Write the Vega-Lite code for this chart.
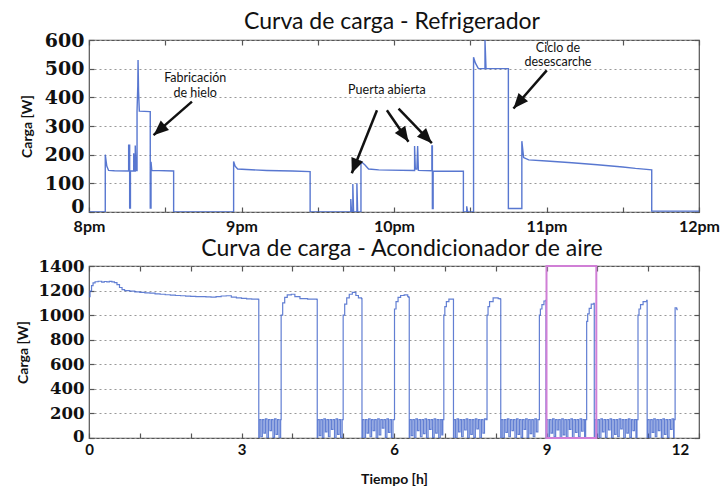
{
  "$schema": "https://vega.github.io/schema/vega-lite/v6.json",
  "background": "white",
  "padding": {"left": 15, "top": 10, "right": 0, "bottom": 0},
  "spacing": 2,
  "config": {
    "view": {"stroke": "#555", "strokeWidth": 1.2},
    "axis": {"domain": false, "tickColor": "#555", "tickSize": -5, "tickWidth": 1.2, "labelFont": "Lato", "labelFontWeight": "bold", "labelColor": "#111", "titleFont": "Lato", "titleFontWeight": "bold", "titleFontSize": 14, "titleColor": "#111", "grid": false},
    "title": {"font": "Lato", "fontSize": 23, "fontWeight": "normal", "color": "#111", "offset": -3}
  },
  "datasets": {
    "fridge": [
      {"m":0,"w":0},{"m":6.4,"w":0},{"m":6.4,"w":200},{"m":7.0,"w":160},{"m":7.7,"w":145},{"m":10,"w":144},{"m":15.6,"w":143},
      {"m":15.6,"w":233},{"m":16.0,"w":233},{"m":16.0,"w":14},{"m":16.3,"w":14},{"m":16.3,"w":143},{"m":17.6,"w":143},{"m":17.6,"w":205},{"m":17.9,"w":143},
      {"m":18.2,"w":143},{"m":18.2,"w":232},{"m":18.5,"w":145},{"m":18.9,"w":145},{"m":18.9,"w":352},{"m":19.2,"w":440},{"m":19.3,"w":530},{"m":19.5,"w":420},{"m":19.8,"w":352},
      {"m":24.0,"w":350},{"m":24.1,"w":350},{"m":24.1,"w":14},{"m":24.4,"w":14},{"m":24.4,"w":175},{"m":24.7,"w":145},{"m":33.3,"w":143},{"m":33.3,"w":0},
      {"m":56.9,"w":0},{"m":56.9,"w":176},{"m":57.5,"w":160},{"m":58.5,"w":150},{"m":62,"w":148},{"m":70,"w":145},{"m":80,"w":143},{"m":87,"w":141},{"m":87,"w":0},
      {"m":103,"w":0},{"m":103,"w":45},{"m":103.3,"w":0},{"m":103.8,"w":0},{"m":103.8,"w":98},{"m":104.1,"w":0},{"m":105.4,"w":0},{"m":105.4,"w":100},{"m":105.7,"w":0},
      {"m":107,"w":0},{"m":107,"w":176},{"m":108.5,"w":165},{"m":110,"w":150},{"m":114,"w":147},{"m":118,"w":146},{"m":128.1,"w":145},
      {"m":128.1,"w":230},{"m":128.4,"w":150},{"m":129.0,"w":150},{"m":129.3,"w":230},{"m":129.6,"w":145},
      {"m":134.9,"w":144},{"m":134.9,"w":230},{"m":135.1,"w":230},{"m":135.1,"w":12},{"m":135.4,"w":12},{"m":135.4,"w":143},{"m":147.3,"w":142},{"m":147.3,"w":0},
      {"m":148.6,"w":0},{"m":148.6,"w":20},{"m":149.0,"w":0},{"m":151.3,"w":0},{"m":151.3,"w":540},{"m":152.0,"w":520},{"m":153.2,"w":500},{"m":155.8,"w":500},
      {"m":155.8,"w":600},{"m":156.2,"w":500},{"m":165,"w":500},{"m":165,"w":12},{"m":170.3,"w":12},{"m":170.3,"w":247},{"m":171,"w":190},{"m":173,"w":182},
      {"m":180,"w":178},{"m":190,"w":172},{"m":200,"w":165},{"m":210,"w":157},{"m":215,"w":152},{"m":221.4,"w":147},{"m":221.4,"w":3},{"m":240,"w":3}
    ],
    "arrows": [
      {"id":"a1","m1":40.5,"w1":385,"m2":25.4,"w2":268},
      {"id":"a2","m1":113.3,"w1":355,"m2":103.4,"w2":135},
      {"id":"a3","m1":117.2,"w1":355,"m2":125.7,"w2":245},
      {"id":"a4","m1":121.8,"w1":361,"m2":134.9,"w2":240},
      {"id":"a5","m1":180.1,"w1":494,"m2":167,"w2":361}
    ],
    "notes": [
      {"m":41.8,"w":469,"label":"Fabricación"},
      {"m":41.8,"w":416,"label":"de hielo"},
      {"m":117.2,"w":424,"label":"Puerta abierta"},
      {"m":184.5,"w":572,"label":"Ciclo de"},
      {"m":184.5,"w":523,"label":"desescarche"}
    ],
    "ac": [
      {"h":0,"w":1150},{"h":0.02,"w":1195},{"h":0.05,"w":1240},{"h":0.08,"w":1262},{"h":0.12,"w":1272},{"h":0.18,"w":1276},{"h":0.25,"w":1268},{"h":0.3,"w":1274},{"h":0.35,"w":1271},{"h":0.4,"w":1275},{"h":0.45,"w":1270},{"h":0.5,"w":1265},
      {"h":0.55,"w":1248},{"h":0.6,"w":1225},{"h":0.65,"w":1208},{"h":0.7,"w":1200},{"h":0.8,"w":1196},{"h":0.9,"w":1190},{"h":1.0,"w":1186},{"h":1.1,"w":1182},{"h":1.2,"w":1180},{"h":1.3,"w":1173},
      {"h":1.4,"w":1170},{"h":1.5,"w":1166},{"h":1.6,"w":1163},{"h":1.7,"w":1160},{"h":1.8,"w":1158},{"h":1.9,"w":1155},{"h":2.0,"w":1153},{"h":2.1,"w":1151},{"h":2.2,"w":1150},{"h":2.3,"w":1148},
      {"h":2.4,"w":1147},{"h":2.5,"w":1150},{"h":2.6,"w":1156},{"h":2.7,"w":1158},{"h":2.8,"w":1147},{"h":2.9,"w":1140},{"h":3.0,"w":1136},{"h":3.1,"w":1133},{"h":3.2,"w":1130},{"h":3.33,"w":1128},{"h":3.34,"w":0},
      {"h":3.35,"w":150},{"h":3.38,"w":10},{"h":3.41,"w":150},{"h":3.44,"w":40},{"h":3.47,"w":155},{"h":3.50,"w":0},{"h":3.53,"w":150},{"h":3.56,"w":60},{"h":3.59,"w":150},{"h":3.62,"w":5},{"h":3.65,"w":155},{"h":3.68,"w":30},{"h":3.71,"w":150},{"h":3.74,"w":0},{"h":3.77,"w":150},
      {"h":3.78,"w":1000},{"h":3.81,"w":1100},{"h":3.85,"w":1145},{"h":3.9,"w":1165},{"h":3.98,"w":1170},{"h":4.05,"w":1150},{"h":4.15,"w":1135},{"h":4.3,"w":1130},{"h":4.48,"w":1128},{"h":4.49,"w":0},
      {"h":4.50,"w":150},{"h":4.53,"w":20},{"h":4.56,"w":150},{"h":4.59,"w":0},{"h":4.62,"w":155},{"h":4.65,"w":50},{"h":4.68,"w":150},{"h":4.71,"w":10},{"h":4.74,"w":150},{"h":4.77,"w":70},{"h":4.80,"w":150},{"h":4.83,"w":0},{"h":4.86,"w":155},{"h":4.89,"w":30},{"h":4.92,"w":150},{"h":4.95,"w":5},{"h":4.98,"w":150},
      {"h":5.0,"w":1000},{"h":5.03,"w":1090},{"h":5.07,"w":1140},{"h":5.12,"w":1170},{"h":5.18,"w":1185},{"h":5.25,"w":1160},{"h":5.3,"w":1140},{"h":5.36,"w":1135},{"h":5.37,"w":0},
      {"h":5.38,"w":150},{"h":5.41,"w":0},{"h":5.44,"w":150},{"h":5.47,"w":40},{"h":5.50,"w":155},{"h":5.53,"w":10},{"h":5.56,"w":150},{"h":5.59,"w":60},{"h":5.62,"w":150},{"h":5.65,"w":0},{"h":5.68,"w":155},{"h":5.71,"w":25},{"h":5.74,"w":150},{"h":5.77,"w":80},{"h":5.80,"w":150},{"h":5.83,"w":5},{"h":5.86,"w":155},{"h":5.89,"w":45},{"h":5.92,"w":150},{"h":5.95,"w":0},{"h":5.98,"w":150},
      {"h":6.01,"w":1050},{"h":6.04,"w":1110},{"h":6.08,"w":1145},{"h":6.13,"w":1160},{"h":6.2,"w":1165},{"h":6.27,"w":1150},{"h":6.29,"w":1145},{"h":6.30,"w":0},
      {"h":6.31,"w":150},{"h":6.34,"w":20},{"h":6.37,"w":150},{"h":6.40,"w":0},{"h":6.43,"w":155},{"h":6.46,"w":60},{"h":6.49,"w":150},{"h":6.52,"w":10},{"h":6.55,"w":150},{"h":6.58,"w":35},{"h":6.61,"w":155},{"h":6.64,"w":0},{"h":6.67,"w":150},{"h":6.70,"w":70},{"h":6.73,"w":150},{"h":6.76,"w":5},{"h":6.79,"w":155},{"h":6.82,"w":40},{"h":6.85,"w":150},{"h":6.88,"w":0},{"h":6.91,"w":150},{"h":6.94,"w":25},{"h":6.96,"w":150},
      {"h":6.98,"w":1000},{"h":7.0,"w":1070},{"h":7.03,"w":1110},{"h":7.08,"w":1130},{"h":7.16,"w":1130},{"h":7.17,"w":0},
      {"h":7.18,"w":150},{"h":7.21,"w":0},{"h":7.24,"w":155},{"h":7.27,"w":50},{"h":7.30,"w":150},{"h":7.33,"w":10},{"h":7.36,"w":150},{"h":7.39,"w":65},{"h":7.42,"w":155},{"h":7.45,"w":0},{"h":7.48,"w":150},{"h":7.51,"w":30},{"h":7.54,"w":150},{"h":7.57,"w":5},{"h":7.60,"w":155},{"h":7.63,"w":75},{"h":7.66,"w":150},{"h":7.69,"w":0},{"h":7.72,"w":150},{"h":7.75,"w":40},{"h":7.78,"w":155},{"h":7.81,"w":150},
      {"h":7.83,"w":1000},{"h":7.85,"w":1070},{"h":7.88,"w":1110},{"h":7.95,"w":1140},{"h":8.05,"w":1135},{"h":8.09,"w":1130},{"h":8.10,"w":0},
      {"h":8.11,"w":150},{"h":8.14,"w":0},{"h":8.17,"w":150},{"h":8.20,"w":45},{"h":8.23,"w":155},{"h":8.26,"w":10},{"h":8.29,"w":150},{"h":8.32,"w":60},{"h":8.35,"w":150},{"h":8.38,"w":0},{"h":8.41,"w":155},{"h":8.44,"w":30},{"h":8.47,"w":150},{"h":8.50,"w":5},{"h":8.53,"w":150},{"h":8.56,"w":70},{"h":8.59,"w":155},{"h":8.62,"w":0},{"h":8.65,"w":150},{"h":8.68,"w":35},{"h":8.71,"w":150},{"h":8.74,"w":10},{"h":8.77,"w":155},{"h":8.80,"w":50},{"h":8.83,"w":150},
      {"h":8.86,"w":1000},{"h":8.88,"w":1050},{"h":8.91,"w":1085},{"h":8.95,"w":1115},{"h":8.98,"w":1120},{"h":8.99,"w":0},
      {"h":9.00,"w":150},{"h":9.03,"w":0},{"h":9.06,"w":150},{"h":9.09,"w":40},{"h":9.12,"w":155},{"h":9.15,"w":10},{"h":9.18,"w":150},{"h":9.21,"w":65},{"h":9.24,"w":150},{"h":9.27,"w":0},{"h":9.30,"w":155},{"h":9.33,"w":25},{"h":9.36,"w":150},{"h":9.39,"w":5},{"h":9.42,"w":150},{"h":9.45,"w":70},{"h":9.48,"w":155},{"h":9.51,"w":0},{"h":9.54,"w":150},{"h":9.57,"w":45},{"h":9.60,"w":150},{"h":9.63,"w":10},{"h":9.66,"w":155},{"h":9.69,"w":55},{"h":9.72,"w":150},{"h":9.75,"w":0},{"h":9.77,"w":150},
      {"h":9.79,"w":950},{"h":9.81,"w":1010},{"h":9.84,"w":1055},{"h":9.88,"w":1090},{"h":9.93,"w":1095},{"h":9.94,"w":0},
      {"h":9.95,"w":150},{"h":9.98,"w":10},{"h":10.01,"w":150},{"h":10.04,"w":0},{"h":10.07,"w":155},{"h":10.10,"w":50},{"h":10.13,"w":150},{"h":10.16,"w":5},{"h":10.19,"w":150},{"h":10.22,"w":65},{"h":10.25,"w":155},{"h":10.28,"w":0},{"h":10.31,"w":150},{"h":10.34,"w":30},{"h":10.37,"w":150},{"h":10.40,"w":10},{"h":10.43,"w":155},{"h":10.46,"w":75},{"h":10.49,"w":150},{"h":10.52,"w":0},{"h":10.55,"w":150},{"h":10.58,"w":40},{"h":10.61,"w":155},{"h":10.64,"w":5},{"h":10.67,"w":150},{"h":10.70,"w":60},{"h":10.73,"w":150},{"h":10.76,"w":0},{"h":10.78,"w":150},
      {"h":10.80,"w":1000},{"h":10.82,"w":1050},{"h":10.85,"w":1085},{"h":10.9,"w":1110},{"h":10.97,"w":1120},{"h":10.98,"w":0},
      {"h":10.99,"w":150},{"h":11.02,"w":0},{"h":11.05,"w":150},{"h":11.08,"w":45},{"h":11.11,"w":155},{"h":11.14,"w":10},{"h":11.17,"w":150},{"h":11.20,"w":60},{"h":11.23,"w":150},{"h":11.26,"w":0},{"h":11.29,"w":155},{"h":11.32,"w":30},{"h":11.35,"w":150},{"h":11.38,"w":5},{"h":11.41,"w":150},{"h":11.44,"w":70},{"h":11.47,"w":155},{"h":11.50,"w":0},{"h":11.51,"w":150},
      {"h":11.53,"w":1060},{"h":11.56,"w":1050},{"h":11.57,"w":1040}
    ],
    "box": [{"h1":9,"h2":9.98,"y1":0,"y2":1400}]
  },
  "vconcat": [
    {
      "width": 610,
      "height": 172,
      "title": {"text": "Curva de carga - Refrigerador", "dx": -2},
      "resolve": {"axis": {"x": "independent", "y": "independent"}},
      "layer": [
        {
          "data": {"name": "fridge"},
          "mark": {"type": "line", "color": "#3b5fc8", "strokeWidth": 1.4, "opacity": 0.85, "clip": true},
          "encoding": {
            "x": {"field": "m", "type": "quantitative", "scale": {"domain": [0, 240], "nice": false},
              "axis": {"values": [0,30,60,90,120,150,180,210,240], "labelFlush": false, "labelExpr": "datum.value % 60 == 0 ? (datum.value == 240 ? '12pm' : (8 + datum.value/60) + 'pm') : ''", "labelFontSize": 16, "labelPadding": 11, "title": null}},
            "y": {"field": "w", "type": "quantitative", "scale": {"domain": [0, 600], "nice": false},
              "axis": {"values": [0,100,200,300,400,500,600], "format": "d", "grid": true, "gridDash": [2,3], "gridColor": "#999", "gridWidth": 1.2, "labelFont": "DejaVu Serif", "labelFontSize": 19, "labelPadding": 10, "labelOffset": {"condition": {"test": "datum.value == 0", "value": -6}, "value": 0}, "title": "Carga [W]", "titlePadding": 10}},
            "order": {"value": null}
          }
        },
        {
          "data": {"name": "arrows"},
          "mark": {"type": "rule", "color": "#111", "strokeWidth": 2.5},
          "encoding": {
            "x": {"field": "m1", "type": "quantitative", "axis": {"orient": "top", "labels": false, "values": [0,30,60,90,120,150,180,210,240], "title": null}},
            "y": {"field": "w1", "type": "quantitative", "axis": {"orient": "right", "labels": false, "values": [0,100,200,300,400,500,600], "title": null}},
            "x2": {"field": "m2"},
            "y2": {"field": "w2"}
          }
        },
        {
          "data": {"name": "arrows"},
          "transform": [{"filter": "datum.id == 'a1'"}],
          "mark": {"type": "point", "shape": "M0,0L0.42,1L-0.42,1Z", "filled": true, "color": "#111", "opacity": 1, "size": 900, "angle": 229},
          "encoding": {"x": {"field": "m2", "type": "quantitative", "axis": null}, "y": {"field": "w2", "type": "quantitative", "axis": null}}
        },
        {
          "data": {"name": "arrows"},
          "transform": [{"filter": "datum.id == 'a2'"}],
          "mark": {"type": "point", "shape": "M0,0L0.42,1L-0.42,1Z", "filled": true, "color": "#111", "opacity": 1, "size": 900, "angle": 201.5},
          "encoding": {"x": {"field": "m2", "type": "quantitative", "axis": null}, "y": {"field": "w2", "type": "quantitative", "axis": null}}
        },
        {
          "data": {"name": "arrows"},
          "transform": [{"filter": "datum.id == 'a3'"}],
          "mark": {"type": "point", "shape": "M0,0L0.42,1L-0.42,1Z", "filled": true, "color": "#111", "opacity": 1, "size": 900, "angle": 145.6},
          "encoding": {"x": {"field": "m2", "type": "quantitative", "axis": null}, "y": {"field": "w2", "type": "quantitative", "axis": null}}
        },
        {
          "data": {"name": "arrows"},
          "transform": [{"filter": "datum.id == 'a4'"}],
          "mark": {"type": "point", "shape": "M0,0L0.42,1L-0.42,1Z", "filled": true, "color": "#111", "opacity": 1, "size": 900, "angle": 136.4},
          "encoding": {"x": {"field": "m2", "type": "quantitative", "axis": null}, "y": {"field": "w2", "type": "quantitative", "axis": null}}
        },
        {
          "data": {"name": "arrows"},
          "transform": [{"filter": "datum.id == 'a5'"}],
          "mark": {"type": "point", "shape": "M0,0L0.42,1L-0.42,1Z", "filled": true, "color": "#111", "opacity": 1, "size": 900, "angle": 221},
          "encoding": {"x": {"field": "m2", "type": "quantitative", "axis": null}, "y": {"field": "w2", "type": "quantitative", "axis": null}}
        },
        {
          "data": {"name": "notes"},
          "mark": {"type": "text", "font": "Lato", "fontSize": 12.5, "color": "#111", "align": "center", "baseline": "middle"},
          "encoding": {
            "x": {"field": "m", "type": "quantitative", "axis": null},
            "y": {"field": "w", "type": "quantitative", "axis": null},
            "text": {"field": "label"}
          }
        }
      ]
    },
    {
      "width": 610,
      "height": 172,
      "title": {"text": "Curva de carga - Acondicionador de aire", "dx": 8},
      "resolve": {"axis": {"x": "independent", "y": "independent"}},
      "layer": [
        {
          "data": {"name": "ac"},
          "mark": {"type": "line", "color": "#3b5fc8", "strokeWidth": 1.2, "opacity": 0.8, "interpolate": "step-after", "clip": true},
          "encoding": {
            "x": {"field": "h", "type": "quantitative", "scale": {"domain": [0, 12], "nice": false},
              "axis": {"values": [0,1,2,3,4,5,6,7,8,9,10,11,12], "labelFlush": false, "labelExpr": "datum.value % 3 == 0 ? datum.label : ''", "labelFontSize": 15, "labelPadding": 9, "labelOffset": {"condition": {"test": "datum.value == 12", "value": -19}, "value": 0}, "title": "Tiempo [h]", "titlePadding": 15}},
            "y": {"field": "w", "type": "quantitative", "scale": {"domain": [0, 1400], "nice": false},
              "axis": {"values": [0,200,400,600,800,1000,1200,1400], "format": "d", "grid": true, "gridDash": [2,3], "gridColor": "#999", "gridWidth": 1.2, "labelFont": "DejaVu Serif", "labelFontSize": 16.5, "labelPadding": 10, "labelOffset": {"condition": {"test": "datum.value == 0", "value": -2}, "value": 0}, "title": "Carga [W]", "titlePadding": 8}},
            "order": {"value": null}
          }
        },
        {
          "data": {"name": "box"},
          "mark": {"type": "rect", "filled": false, "stroke": "#d07fd6", "strokeWidth": 2},
          "encoding": {
            "x": {"field": "h1", "type": "quantitative", "axis": {"orient": "top", "labels": false, "values": [0,1,2,3,4,5,6,7,8,9,10,11,12], "title": null}},
            "x2": {"field": "h2"},
            "y": {"field": "y1", "type": "quantitative", "axis": {"orient": "right", "labels": false, "values": [0,200,400,600,800,1000,1200,1400], "title": null}},
            "y2": {"field": "y2"}
          }
        }
      ]
    }
  ]
}
